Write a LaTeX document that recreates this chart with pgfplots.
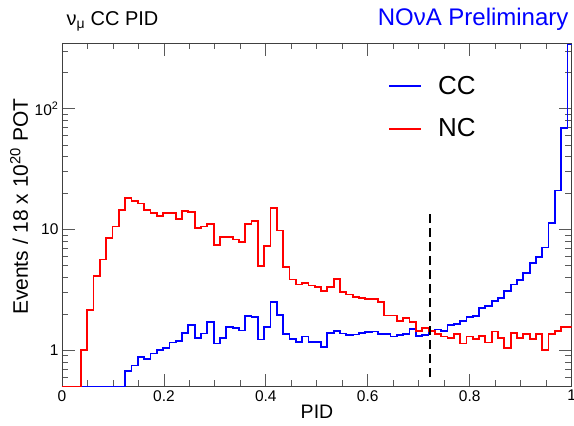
\documentclass[border=0pt]{standalone}
\usepackage{pgfplots}
\usepackage{pgfplotstable}
\pgfplotsset{compat=1.18}
\usepackage{fontspec}
\setmainfont{Liberation Sans}
\pgfplotstableread{
x cc nc
0.0000 0.5 0.5
0.0124 0.5 0.5
0.0248 0.5 0.5
0.0372 0.5 1.0
0.0496 0.5 2.15
0.0620 0.5 4.1
0.0744 0.5 5.65
0.0868 0.5 8.5
0.0992 0.5 10.6
0.1116 0.5 14.6
0.1240 0.675 18.3
0.1364 0.75 17.1
0.1488 0.88 16.4
0.1612 0.85 14.6
0.1736 0.94 13.6
0.1860 1.0 12.9
0.1984 1.04 13.6
0.2108 1.16 13.6
0.2232 1.2 12.3
0.2356 1.4 14.2
0.2480 1.62 13.9
0.2604 1.27 10.3
0.2728 1.38 10.6
0.2852 1.71 11.1
0.2976 1.14 7.4
0.3100 1.27 8.7
0.3224 1.56 8.7
0.3348 1.52 8.27
0.3472 1.46 7.85
0.3596 1.92 11.1
0.3720 1.9 11.7
0.3844 1.23 4.97
0.3968 1.56 7.27
0.4092 2.53 15.1
0.4216 1.96 9.8
0.4340 1.36 4.92
0.4464 1.25 3.86
0.4588 1.18 3.51
0.4712 1.3 3.6
0.4836 1.18 3.44
0.4960 1.17 3.36
0.5084 1.06 3.09
0.5208 1.4 3.33
0.5332 1.44 3.9
0.5456 1.38 3.02
0.5580 1.33 2.9
0.5704 1.35 2.78
0.5828 1.39 2.72
0.5952 1.42 2.68
0.6076 1.43 2.66
0.6200 1.37 2.5
0.6324 1.37 1.94
0.6448 1.3 1.94
0.6572 1.33 1.74
0.6696 1.37 1.85
0.6820 1.51 1.71
0.6944 1.32 1.44
0.7068 1.34 1.53
0.7192 1.45 1.45
0.7316 1.49 1.36
0.7440 1.44 1.30
0.7564 1.61 1.26
0.7688 1.66 1.37
0.7812 1.75 1.14
0.7936 1.88 1.30
0.8060 1.92 1.25
0.8184 2.25 1.31
0.8308 2.32 1.16
0.8432 2.55 1.43
0.8556 2.72 1.27
0.8680 3.09 1.05
0.8804 3.51 1.40
0.8928 3.81 1.27
0.9052 4.39 1.37
0.9176 5.3 1.24
0.9300 5.9 1.36
0.9424 7.1 1.0
0.9548 11.4 1.37
0.9672 21 1.44
0.9796 69 1.55
0.9920 340 1.57
1.0044 340 1.57
}\histdata
\begin{document}
\begin{tikzpicture}
\useasboundingbox (-62pt,-39.3pt) rectangle (512pt,386.7pt);
\begin{axis}[
  scale only axis,
  width=509.6pt, height=343.7pt,
  xmin=0, xmax=1, ymin=0.5, ymax=350,
  ymode=log,
  axis line style={black!75, line width=0.9pt},
  tick style={black!65, line width=0.8pt},
  tick align=inside,
  xtick={0,0.2,0.4,0.6,0.8,1},
  xticklabels={0,0.2,0.4,0.6,0.8,1},
  minor xtick={0.05,0.1,0.15,0.25,0.3,0.35,0.45,0.5,0.55,0.65,0.7,0.75,0.85,0.9,0.95},
  ytick={1,10,100},
  yticklabels={1,10,10\textsuperscript{2}},
  minor ytick={0.5,0.6,0.7,0.8,0.9,2,3,4,5,6,7,8,9,20,30,40,50,60,70,80,90,200,300},
  major tick length=13pt, minor tick length=6.5pt,
  xticklabel style={font=\fontsize{15.5}{16}\selectfont},
  yticklabel style={font=\fontsize{15.5}{16}\selectfont},
  legend style={draw=none, fill=none, at={(rel axis cs:0.64,0.91)}, anchor=north west,
    font=\fontsize{26}{26}\selectfont, row sep=19pt, inner sep=0pt, nodes={inner sep=2pt}},
  legend image code/.code={\draw[#1] (0pt,0pt) -- (32pt,0pt);},
  legend cell align=left,
]
\addplot[const plot mark left, draw=blue, line width=1.8pt, line join=miter] table[x=x, y=cc] {\histdata};
\addlegendentry{\hspace{14pt}CC}
\addplot[const plot mark left, draw=red, line width=1.8pt, line join=miter] table[x=x, y=nc] {\histdata};
\addlegendentry{\hspace{14pt}NC}
\addplot[forget plot, black, line width=2.5pt, dash pattern=on 9pt off 5pt] coordinates {(0.722,0.6) (0.722,13.8)};
\end{axis}
\node[anchor=base west, font=\fontsize{20}{20}\selectfont] at (1pt,361pt) {ν\textsubscript{μ} CC PID};
\node[anchor=base east, font=\fontsize{24}{24}\selectfont, text=blue] at (510pt,361pt) {NOνA Preliminary};
\node[rotate=90, anchor=base, font=\fontsize{21}{21}\selectfont] at (-34pt,180pt) {Events / 18 x 10\textsuperscript{20} POT};
\node[anchor=base, font=\fontsize{19.5}{20}\selectfont] at (255pt,-32.3pt) {PID};
\end{tikzpicture}
\end{document}
